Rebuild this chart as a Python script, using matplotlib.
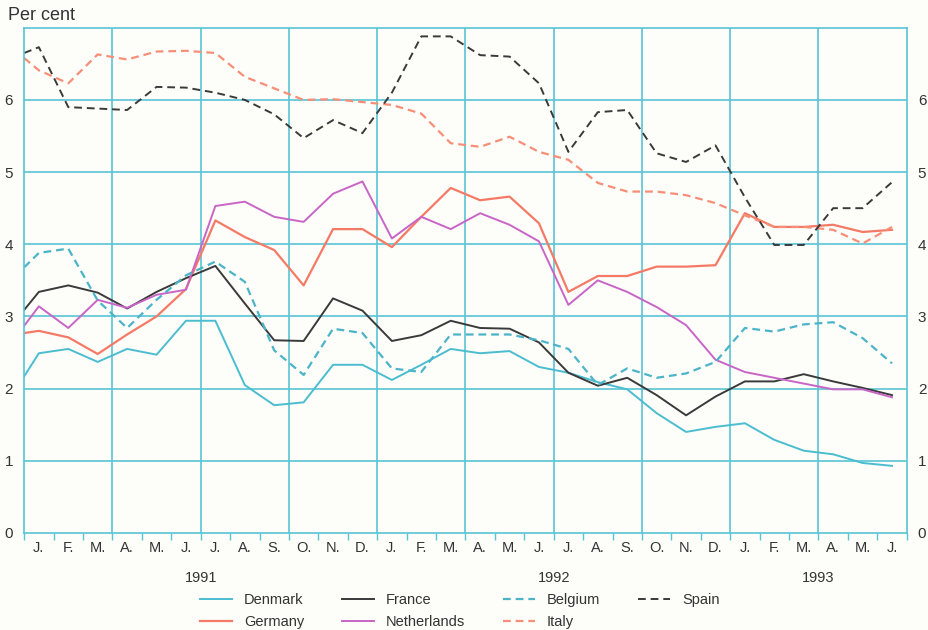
import numpy as np
import matplotlib.pyplot as plt

# month labels J 1991 .. J 1993, plus a start point on the left edge (Dec 1990)
months = ["J.", "F.", "M.", "A.", "M.", "J.", "J.", "A.", "S.", "O.", "N.", "D.",
          "J.", "F.", "M.", "A.", "M.", "J.", "J.", "A.", "S.", "O.", "N.", "D.",
          "J.", "F.", "M.", "A.", "M.", "J."]
years = ["1991", "1992", "1993"]

denmark = [2.17, 2.49, 2.55, 2.37, 2.55, 2.47, 2.94, 2.94, 2.05, 1.77, 1.81, 2.33, 2.33,
           2.12, 2.33, 2.55, 2.49, 2.52, 2.30, 2.22, 2.09, 1.99, 1.66, 1.40, 1.47,
           1.52, 1.29, 1.14, 1.09, 0.97, 0.93]
germany = [2.77, 2.80, 2.71, 2.48, 2.75, 3.00, 3.38, 4.33, 4.10, 3.92, 3.43, 4.21, 4.21,
           3.96, 4.38, 4.78, 4.61, 4.66, 4.29, 3.34, 3.56, 3.56, 3.69, 3.69, 3.71,
           4.43, 4.24, 4.24, 4.27, 4.17, 4.20]
france = [3.09, 3.34, 3.43, 3.33, 3.11, 3.34, 3.53, 3.70, 3.18, 2.67, 2.66, 3.25, 3.08,
          2.66, 2.74, 2.94, 2.84, 2.83, 2.64, 2.22, 2.04, 2.15, 1.91, 1.63, 1.89,
          2.10, 2.10, 2.20, 2.10, 2.01, 1.91]
netherlands = [2.87, 3.14, 2.84, 3.23, 3.12, 3.30, 3.37, 4.53, 4.59, 4.38, 4.31, 4.70, 4.87,
               4.08, 4.38, 4.21, 4.43, 4.27, 4.04, 3.16, 3.50, 3.34, 3.13, 2.88, 2.40,
               2.23, 2.15, 2.07, 1.99, 1.99, 1.88]
belgium = [3.68, 3.88, 3.94, 3.22, 2.84, 3.23, 3.57, 3.76, 3.48, 2.53, 2.19, 2.83, 2.77,
           2.28, 2.23, 2.75, 2.75, 2.75, 2.67, 2.55, 2.05, 2.28, 2.15, 2.21, 2.37,
           2.84, 2.79, 2.89, 2.92, 2.70, 2.35]
italy = [6.58, 6.41, 6.23, 6.63, 6.56, 6.67, 6.68, 6.65, 6.32, 6.16, 6.00, 6.01, 5.97,
         5.93, 5.81, 5.40, 5.35, 5.49, 5.28, 5.17, 4.85, 4.73, 4.73, 4.68, 4.57,
         4.40, 4.24, 4.24, 4.20, 4.01, 4.24]
spain = [6.65, 6.73, 5.90, 5.88, 5.86, 6.18, 6.17, 6.10, 6.00, 5.80, 5.47, 5.72, 5.54,
         6.10, 6.88, 6.88, 6.62, 6.60, 6.23, 5.28, 5.83, 5.86, 5.26, 5.14, 5.37,
         4.65, 3.99, 3.99, 4.50, 4.50, 4.86]

cyan = '#58c4d6'
txt = '#333333'
plt.rcParams['font.family'] = ['Liberation Sans', 'DejaVu Sans']

# first point sits on the left frame, then one point per month
x = np.r_[-0.5, np.arange(30)]

fig = plt.figure(figsize=(9.29, 6.3), dpi=100, facecolor='#fdfdf9')
ax = fig.add_axes([0.026, 0.154, 0.95, 0.802])
ax.set_facecolor('#fdfdf9')

l_den, = ax.plot(x, denmark, color='#4bbdd0', lw=1.4, label='Denmark')
l_ger, = ax.plot(x, germany, color='#f57a66', lw=1.6, label='Germany')
l_fra, = ax.plot(x, france, color='#3a3a3a', lw=1.4, label='France')
l_ned, = ax.plot(x, netherlands, color='#c865c6', lw=1.4, label='Netherlands')
l_bel, = ax.plot(x, belgium, color='#4bb4c8', lw=1.6, ls=(0, (3.5, 2.2)), label='Belgium')
l_ita, = ax.plot(x, italy, color='#f78f78', lw=1.6, ls=(0, (3.5, 2.2)), label='Italy')
l_spa, = ax.plot(x, spain, color='#3a3a3a', lw=1.4, ls=(0, (4, 2.5)), label='Spain')

ax.set_xlim(-0.5, 29.5)
ax.set_ylim(0, 7)

# grid
for q in np.arange(2.5, 29, 3):
    ax.axvline(q, color=cyan, lw=1.2, zorder=0)
for v in range(1, 7):
    ax.axhline(v, color=cyan, lw=1.2, zorder=0)
for s in ax.spines.values():
    s.set_color(cyan)
    s.set_linewidth(1.2)

ax.set_xticks(np.arange(30))
ax.set_xticklabels(months, fontsize=10.5, color=txt)
ax.set_xticks(np.arange(-0.5, 30, 1), minor=True)
ax.tick_params(axis='x', which='major', length=0, pad=6)
ax.tick_params(axis='x', which='minor', length=5, color=cyan, width=1)

ax.set_yticks(range(0, 7))
ax.tick_params(axis='y', length=0, labelsize=11, labelcolor=txt, pad=8,
               labelleft=True, labelright=True)

for y, xc in zip(years, [5.5, 17.5, 26.5]):
    ax.text(xc, -0.089, y, transform=ax.get_xaxis_transform(), ha='center', va='center',
            fontsize=10.5, color=txt)

fig.text(0.009, 0.976, 'Per cent', fontsize=13, color=txt, va='center', ha='left')

handles = [l_den, l_ger, l_fra, l_ned, l_bel, l_ita, l_spa]
fig.legend(handles=handles, ncol=4, loc='center', bbox_to_anchor=(0.495, 0.03),
           frameon=False, fontsize=10.5, handlelength=2.2, columnspacing=2.6,
           labelspacing=0.5, labelcolor=txt)

fig.savefig('out.png', dpi=100, facecolor=fig.get_facecolor())
